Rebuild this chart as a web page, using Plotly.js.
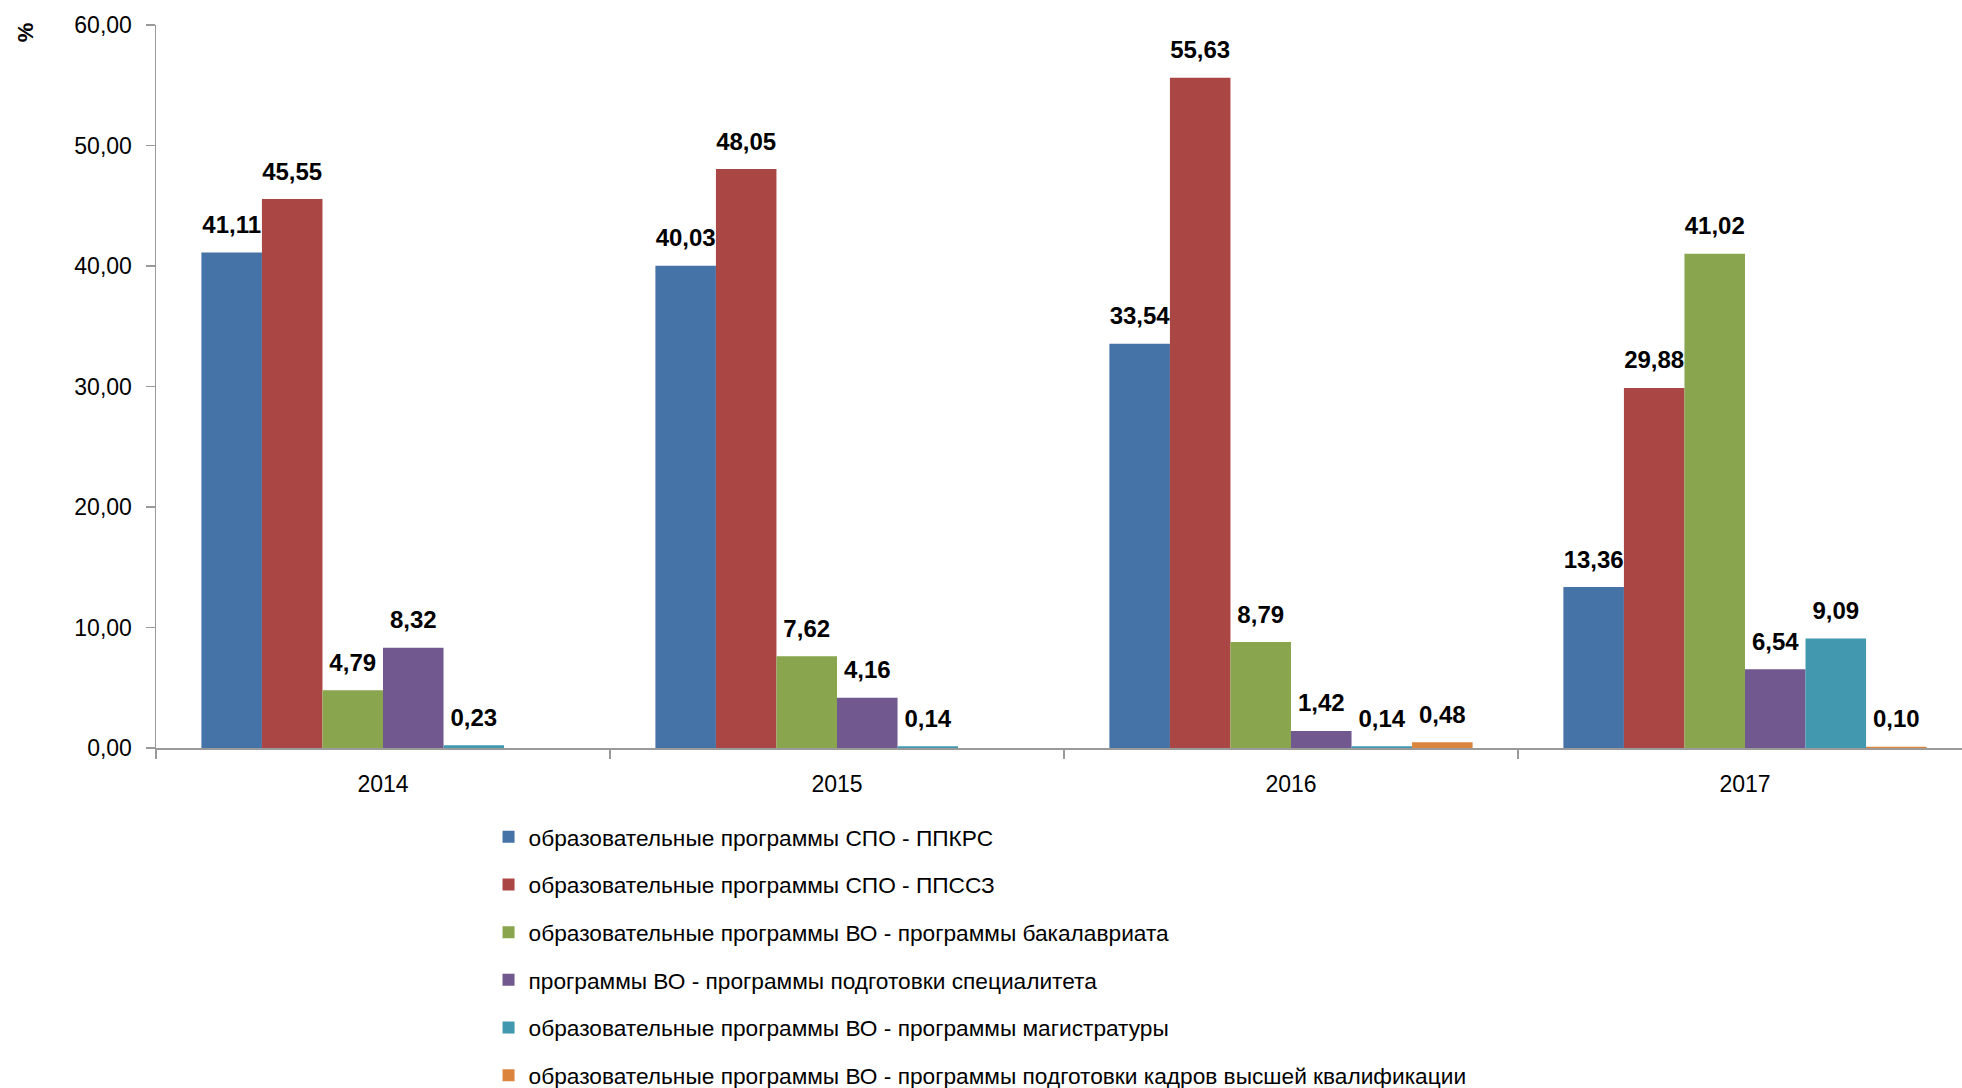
<!DOCTYPE html>
<html><head><meta charset="utf-8">
<script src="https://cdn.plot.ly/plotly-3.0.1.min.js"></script>
<style>html,body{margin:0;padding:0;background:#fff}</style>
</head><body><div id="chart" style="width:1962px;height:1088px"></div>
<script>
const years = ['2014', '2015', '2016', '2017'];
const seriesNames = [
  'образовательные программы СПО - ППКРС',
  'образовательные программы СПО - ППССЗ',
  'образовательные программы ВО - программы бакалавриата',
  'программы ВО - программы подготовки специалитета',
  'образовательные программы ВО - программы магистратуры',
  'образовательные программы ВО - программы подготовки кадров высшей квалификации'
];
const ppkrs      = [41.11, 40.03, 33.54, 13.36];
const ppssz      = [45.55, 48.05, 55.63, 29.88];
const bachelor   = [4.79, 7.62, 8.79, 41.02];
const specialist = [8.32, 4.16, 1.42, 6.54];
const master     = [0.23, 0.14, 0.14, 9.09];
const postgrad   = [null, null, 0.48, 0.10];
const seriesValues = [ppkrs, ppssz, bachelor, specialist, master, postgrad];
const colors = ['#4572A7', '#AA4643', '#89A54E', '#71588F', '#4198AF', '#DB843D'];

const FONT = 'Liberation Sans, Arial, sans-serif';
const traces = [];
seriesValues.forEach((vals, i) => {
  traces.push({
    type: 'bar', x: years, y: vals, name: seriesNames[i],
    marker: {color: colors[i]}, legendgroup: 'g' + i,
    hoverinfo: 'x+y+name'
  });
});
seriesValues.forEach((vals, i) => {
  traces.push({
    type: 'scatter', mode: 'markers+text', x: years, y: vals,
    showlegend: false, hoverinfo: 'skip', cliponaxis: false,
    marker: {size: 20, color: 'rgba(0,0,0,0)'},
    texttemplate: '%{y:.2f}', textposition: 'top center',
    textfont: {family: FONT, size: 24, color: '#000', weight: 'bold'}
  });
});

const axisColor = '#9a9a9a';
const layout = {
  width: 1962, height: 1088,
  margin: {l: 156, r: 0, t: 25, b: 340, autoexpand: false},
  paper_bgcolor: '#fff', plot_bgcolor: '#fff',
  font: {family: FONT, size: 23, color: '#000'},
  separators: ', ',
  barmode: 'group', bargap: 0.2, bargroupgap: 0,
  scattermode: 'group', scattergap: 0.2,
  showlegend: true,
  xaxis: {
    type: 'category', range: [-0.5, 3.478], automargin: false,
    showline: true, linecolor: axisColor, linewidth: 1.5,
    ticks: 'outside', tickson: 'boundaries', ticklen: 9, tickcolor: axisColor, tickwidth: 1.5,
    showgrid: false, zeroline: false,
    tickfont: {family: FONT, size: 23, color: '#000'},
    ticklabelstandoff: 15
  },
  yaxis: {
    range: [0, 60], dtick: 10, tick0: 0, tickformat: '.2f', automargin: false,
    showline: true, linecolor: axisColor, linewidth: 1.5,
    ticks: 'outside', ticklen: 9, tickcolor: axisColor, tickwidth: 1.5,
    showgrid: false, zeroline: false,
    tickfont: {family: FONT, size: 23, color: '#000'},
    ticklabelstandoff: 9
  },
  legend: {
    xref: 'container', yref: 'container',
    x: 0.249, y: 0.2505, xanchor: 'left', yanchor: 'top',
    traceorder: 'grouped', tracegroupgap: 15.2,
    font: {family: FONT, size: 22.7, color: '#000'},
    bgcolor: 'rgba(0,0,0,0)'
  },
  annotations: [{
    text: '<b>%</b>', xref: 'paper', yref: 'paper',
    x: -0.0725, y: 0.99, xanchor: 'center', yanchor: 'middle',
    textangle: -90, showarrow: false,
    font: {family: FONT, size: 22, color: '#000'}
  }]
};
Plotly.newPlot('chart', traces, layout, {displayModeBar: false, staticPlot: true});
</script></body></html>
